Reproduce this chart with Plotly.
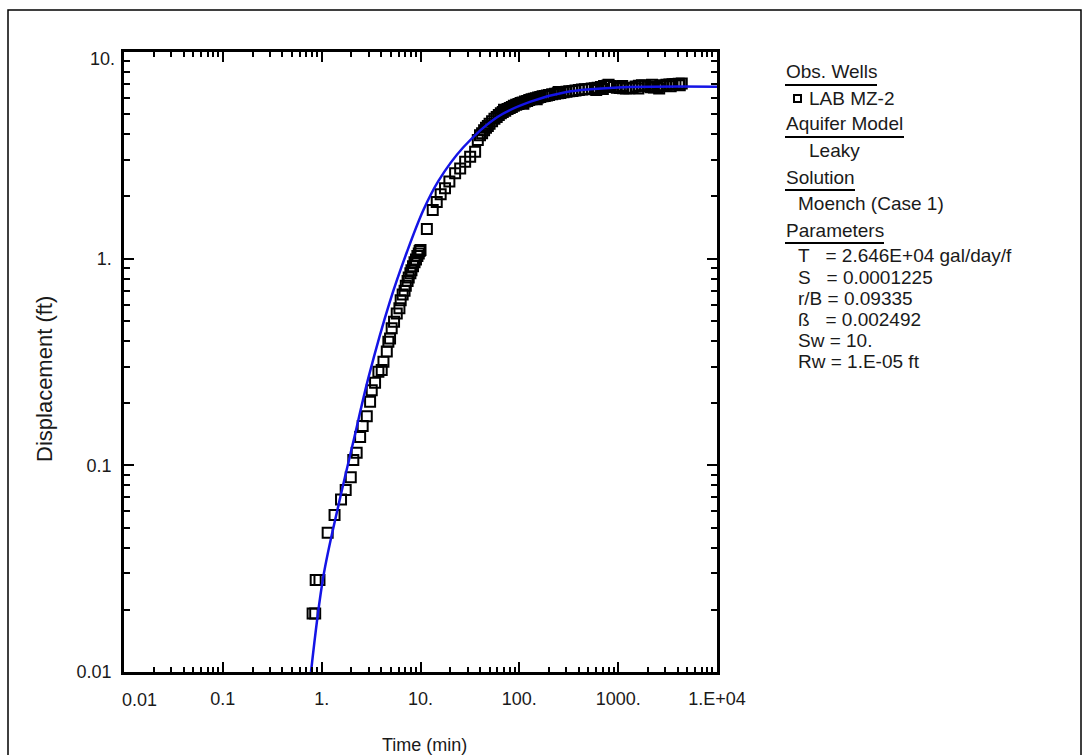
import plotly.graph_objects as go

# ---------------- data ----------------
obs_time = [0.81, 0.86, 0.87, 0.95, 1.15, 1.35, 1.57, 1.75, 1.97, 2.09, 2.26, 2.45, 2.6, 2.86,
            3.09, 3.21, 3.47, 3.75, 4.05, 4.22, 4.56, 4.73, 4.92, 5.11, 5.4, 5.75, 6.12,
            6.3, 6.6, 6.9, 7.1, 7.4, 7.6, 7.9, 8.1, 8.4, 8.7, 9.0, 9.3, 9.6, 9.8, 10.0,
            11.6, 13.3, 14.6, 16.0, 17.7, 19.6, 22.4, 25.2, 28.3, 31.8, 35.7,
            38, 40, 42, 44, 46, 48, 50, 53, 56, 59, 62, 65, 68, 70, 72, 76, 80, 84, 88, 93,
            98, 103, 108, 110, 114, 120, 126, 133, 140, 147, 150, 155, 163, 172, 181, 190,
            200, 215, 230, 245, 250, 260, 280, 300, 320, 345, 370, 400, 430, 460, 500,
            540, 580, 600, 620, 670, 700, 720, 780, 800, 840, 900, 970, 1040, 1100, 1120,
            1200, 1300, 1400, 1500, 1600, 1620, 1740, 1870, 2000, 2150, 2200, 2300, 2480,
            2600, 2660, 2860, 3080, 3300, 3400, 3550, 3800, 4100, 4200, 4400]
obs_disp = [0.0192, 0.0192, 0.0279, 0.0279, 0.0472, 0.0575, 0.0684, 0.076, 0.0875, 0.106,
            0.115, 0.137, 0.155, 0.173, 0.203, 0.231, 0.251, 0.284, 0.289, 0.317, 0.355,
            0.396, 0.411, 0.46, 0.495, 0.543, 0.575, 0.63, 0.67, 0.70, 0.74, 0.78, 0.81,
            0.85, 0.88, 0.92, 0.96, 0.99, 1.03, 1.06, 1.09, 1.10,
            1.39, 1.72, 1.88, 2.05, 2.19, 2.36, 2.59, 2.73, 2.94, 3.11, 3.29,
            3.75, 3.95, 4.05, 4.18, 4.3, 4.38, 4.5, 4.62, 4.75, 4.85, 4.95, 5.05, 5.12, 5.25,
            5.2, 5.3, 5.36, 5.42, 5.5, 5.55, 5.6, 5.66, 5.7, 5.62, 5.76, 5.8, 5.85, 5.9,
            5.94, 5.98, 5.9, 6.02, 6.06, 6.1, 6.13, 6.16, 6.2, 6.24, 6.28, 6.31, 6.4, 6.34,
            6.38, 6.42, 6.45, 6.48, 6.52, 6.55, 6.58, 6.6, 6.63, 6.66, 6.68, 6.55, 6.72,
            6.78, 6.62, 6.84, 6.88, 6.95, 6.84, 6.78, 6.72, 6.7, 6.85, 6.68, 6.66, 6.68,
            6.72, 6.8, 6.65, 6.86, 6.9, 6.86, 6.8, 6.76, 6.95, 6.74, 6.78, 6.65, 6.85, 6.9,
            6.94, 6.96, 6.82, 6.98, 7.0, 7.02, 6.9, 7.04]

fit_time = [0.78, 1.04, 1.5, 2.09, 3.0, 4.9, 7.3, 10.7, 15.2, 27, 60, 130, 300, 1000, 10000]
fit_disp = [0.01, 0.029, 0.066, 0.13, 0.27, 0.62, 1.08, 1.72, 2.38, 3.45, 4.85, 5.75, 6.4,
            6.73, 6.79]

x_ticks = [0.01, 0.1, 1, 10, 100, 1000, 10000]
x_tick_labels = ["", "0.1", "1.", "10.", "100.", "1000.", "1.E+04"]
y_ticks = [0.01, 0.1, 1, 10]
y_tick_labels = ["0.01", "0.1", "1.", ""]

legend_headers = ["Obs. Wells", "Aquifer Model", "Solution", "Parameters"]
well_name = "LAB MZ-2"
aquifer_model = "Leaky"
solution_name = "Moench (Case 1)"
NB = "\u00a0"
param_lines = [
    "T" + NB * 3 + "= 2.646E+04 gal/day/f",
    "S" + NB * 3 + "= 0.0001225",
    "r/B = 0.09335",
    "ß" + NB * 3 + "= 0.002492",
    "Sw = 10.",
    "Rw = 1.E-05 ft",
]

# ---------------- layout helpers (pixel -> paper) ----------------
W, H = 1087, 755
L, R, T, B = 124, 717, 52, 672


def px(x):
    return (x - L) / (R - L)


def py(y):
    return (B - y) / (B - T)


def minor_vals(lo, hi):
    vals = []
    for e in range(lo, hi):
        for m in range(2, 10):
            vals.append(m * 10.0 ** e)
    return vals


FONT = "Arial, Liberation Sans, sans-serif"
TXT = "#1a1a1a"
AX_FS = 18
LG_FS = 19

fig = go.Figure()
fig.add_trace(go.Scatter(
    x=obs_time, y=obs_disp, mode="markers",
    marker=dict(symbol="square-open", size=10, color="black", line=dict(width=2, color="black")),
    showlegend=False, hoverinfo="skip"))
fig.add_trace(go.Scatter(
    x=fit_time, y=fit_disp, mode="lines",
    line=dict(color="#1414e6", width=2.5, shape="spline", smoothing=1.0),
    showlegend=False, hoverinfo="skip"))

axis_common = dict(
    type="log", tickmode="array", ticks="inside", ticklen=10, tickwidth=1.5,
    tickcolor="black", showline=True, linecolor="black", linewidth=2.5,
    mirror="allticks", showgrid=False, zeroline=False,
    tickfont=dict(family=FONT, size=AX_FS, color=TXT),
)

fig.update_layout(
    width=W, height=H,
    margin=dict(l=L, r=W - R, t=T, b=H - B),
    paper_bgcolor="white", plot_bgcolor="white",
    xaxis=dict(range=[-2, 4], tickvals=x_ticks, ticktext=x_tick_labels,
               ticklabelstandoff=9,
               minor=dict(tickvals=minor_vals(-2, 4), ticks="inside", ticklen=5,
                          tickwidth=1.5, tickcolor="black", showgrid=False),
               **axis_common),
    yaxis=dict(range=[-2, 1], tickvals=y_ticks, ticktext=y_tick_labels,
               ticklabelstandoff=6,
               minor=dict(tickvals=minor_vals(-2, 1), ticks="inside", ticklen=6,
                          tickwidth=1.5, tickcolor="black", showgrid=False),
               **axis_common),
)

ann = []
shapes = []


def text_at(t, x, y, size, anchor="left", angle=0):
    ann.append(dict(text=t, x=px(x), y=py(y), xref="paper", yref="paper",
                    xanchor=anchor, yanchor="middle", showarrow=False, textangle=angle,
                    font=dict(family=FONT, size=size, color=TXT)))


# axis titles and shifted end labels
text_at("Time (min)", 424, 745, AX_FS, anchor="center")
text_at("Displacement (ft)", 45, 379, AX_FS + 4, anchor="center", angle=-90)
text_at("0.01", 139, 700, AX_FS, anchor="center")
text_at("10.", 117, 59, AX_FS, anchor="right")

# legend / info panel
hdr_y = [72, 124, 177, 230]
hdr_w = [92, 119, 70, 99]
for t, yy, ww in zip(legend_headers, hdr_y, hdr_w):
    text_at(t, 784, yy, LG_FS)
    shapes.append(dict(type="line", xref="paper", yref="paper",
                       x0=px(785), x1=px(785 + ww), y0=py(yy + 13), y1=py(yy + 13),
                       line=dict(color="black", width=2)))

text_at(well_name, 807, 98, LG_FS)
shapes.append(dict(type="rect", xref="paper", yref="paper",
                   x0=px(794), x1=px(801), y0=py(102), y1=py(95),
                   line=dict(color="black", width=2)))
text_at(aquifer_model, 807, 150, LG_FS)
text_at(solution_name, 796, 203, LG_FS)

for i, line in enumerate(param_lines):
    text_at(line, 796, 256 + 21 * i, LG_FS)

# outer frame
shapes.append(dict(type="rect", xref="paper", yref="paper",
                   x0=px(8), x1=px(1081), y0=py(765), y1=py(10),
                   line=dict(color="black", width=1.5)))

fig.update_layout(annotations=ann, shapes=shapes)
fig.write_html("out.html", config={"displayModeBar": False},
               post_script="document.body.style.margin='0px';")
